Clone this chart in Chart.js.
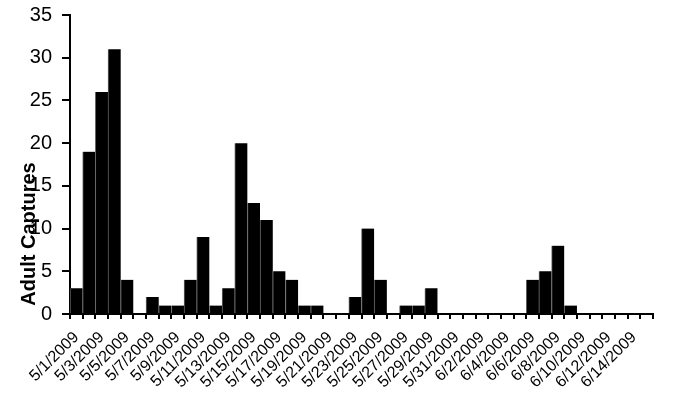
<html>
<head>
<meta charset="UTF-8"/>
<style>
html, body {
 width: 100%;
 height: 100%;
 margin: 0px;
 border: 0;
 overflow: hidden;
 background-color: #ffffff;
}
#wrap { width: 677px; height: 402px; }
</style>
<script src="https://cdn.jsdelivr.net/npm/chart.js@4.4.1/dist/chart.umd.min.js"></script>
<script type="text/javascript">
var dates = [
    '5/1/2009', '5/2/2009', '5/3/2009', '5/4/2009', '5/5/2009', '5/6/2009', '5/7/2009', '5/8/2009',
    '5/9/2009', '5/10/2009', '5/11/2009', '5/12/2009', '5/13/2009', '5/14/2009', '5/15/2009', '5/16/2009',
    '5/17/2009', '5/18/2009', '5/19/2009', '5/20/2009', '5/21/2009', '5/22/2009', '5/23/2009', '5/24/2009',
    '5/25/2009', '5/26/2009', '5/27/2009', '5/28/2009', '5/29/2009', '5/30/2009', '5/31/2009',
    '6/1/2009', '6/2/2009', '6/3/2009', '6/4/2009', '6/5/2009', '6/6/2009', '6/7/2009', '6/8/2009',
    '6/9/2009', '6/10/2009', '6/11/2009', '6/12/2009', '6/13/2009', '6/14/2009', '6/15/2009'
];
var captures = [
    3, 19, 26, 31, 4, 0, 2, 1,
    1, 4, 9, 1, 3, 20, 13, 11,
    5, 4, 1, 1, 0, 0, 2, 10,
    4, 0, 1, 1, 3, 0, 0,
    0, 0, 0, 0, 0, 4, 5, 8,
    1, 0, 0, 0, 0, 0, 0
];
var yTitle = 'Adult Captures';
var yMax = 35;
var yStep = 5;

// axis title drawn by hand, it sits low and over the tick labels like the original
var titlePlugin = {
    id: 'ytitle',
    afterDraw: function(chart) {
        var c = chart.ctx;
        c.save();
        c.translate(29, 234);
        c.rotate(-Math.PI / 2);
        c.font = 'bold 20px "Liberation Sans", Arial, sans-serif';
        c.fillStyle = '#000';
        c.textAlign = 'center';
        c.textBaseline = 'middle';
        c.fillText(yTitle, 0, 0);
        c.restore();
    }
};

function init() {
    var ctx = document.getElementById('myChart').getContext('2d');
    new Chart(ctx, {
        type: 'bar',
        data: {
            labels: dates,
            datasets: [{
                data: captures,
                backgroundColor: '#000000',
                borderColor: '#666666',
                borderWidth: {left: 1, right: 0, top: 0, bottom: 0},
                borderSkipped: false,
                barPercentage: 1.0,
                categoryPercentage: 1.0
            }]
        },
        options: {
            responsive: false,
            animation: false,
            layout: { padding: { top: 15, right: 24, left: 0, bottom: 0 } },
            plugins: {
                legend: { display: false },
                tooltip: { enabled: false }
            },
            scales: {
                x: {
                    offset: true,
                    border: { color: '#000', width: 2 },
                    grid: {
                        offset: true,
                        drawOnChartArea: false,
                        drawTicks: true,
                        tickLength: 5,
                        color: '#000',
                        lineWidth: 2
                    },
                    ticks: {
                        autoSkip: false,
                        maxRotation: 45,
                        minRotation: 45,
                        padding: 9,
                        color: '#000',
                        font: { family: '"Liberation Sans", Arial, sans-serif', size: 16 },
                        callback: function(v, i) { return i % 2 == 0 ? dates[i] : ''; }
                    },
                    afterFit: function(s) { s.height = 88; }
                },
                y: {
                    min: 0,
                    max: yMax,
                    border: { color: '#000', width: 2 },
                    grid: {
                        drawOnChartArea: false,
                        drawTicks: true,
                        tickLength: 8,
                        color: '#000',
                        lineWidth: 2
                    },
                    ticks: {
                        stepSize: yStep,
                        padding: 10,
                        color: '#000',
                        font: { family: '"Liberation Sans", Arial, sans-serif', size: 20 }
                    },
                    afterFit: function(s) { s.width = 70; s.paddingTop = 0; }
                }
            }
        },
        plugins: [titlePlugin]
    });
}
</script>
<title>Adult Captures</title>
</head>
<body onload="init();">
<div id="wrap"><canvas id="myChart" width="677" height="402"></canvas></div>
</body>
</html>
